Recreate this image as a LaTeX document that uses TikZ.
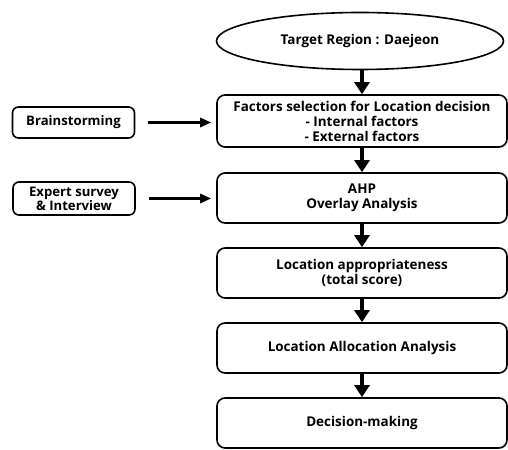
\documentclass[tikz,border=0pt]{standalone}
\usepackage{fontspec}
\setmainfont{Open Sans}
\usetikzlibrary{shapes.geometric,arrows.meta}
\begin{document}
\begin{tikzpicture}[x=1bp,y=-1bp,
  box/.style={draw,line width=1.6bp,rounded corners=8bp,minimum width=290bp,minimum height=50bp,align=center,font=\bfseries\fontsize{13.5}{15}\selectfont,inner sep=0pt},
  sidebox/.style={draw,line width=1.6bp,rounded corners=6bp,minimum width=122bp,align=center,font=\bfseries\fontsize{13.2}{14}\selectfont,inner sep=0pt},
  varrow/.style={line width=4.5bp,-{Triangle[width=15bp,length=12bp]}},
  harrow/.style={line width=2.8bp,-{Triangle[width=9bp,length=11bp]}}]
\useasboundingbox (0,0) rectangle (508,450);
\node[ellipse,draw,line width=1.6bp,minimum width=287bp,minimum height=57bp,inner sep=0pt,font=\bfseries\fontsize{13.5}{15}\selectfont] (target) at (360,41) {Target Region : Daejeon};
\node[box,minimum height=52bp] (fac) at (362,121) {Factors selection for Location decision\\- Internal factors\\- External factors};
\node[box] (ahp) at (362,198) {AHP\\Overlay Analysis};
\node[box] (loc) at (362,273) {Location appropriateness\\(total score)};
\node[box] (alloc) at (362,348) {Location Allocation Analysis};
\node[box] (dec) at (362,423) {Decision-making};
\node[sidebox,minimum height=31bp] (brain) at (73.5,122.5) {Brainstorming};
\node[sidebox,minimum height=33bp] (exp) at (74,198.5) {Expert survey\\\& Interview};
\draw[varrow] (target.south -| fac.north) -- (fac.north);
\draw[varrow] (fac) -- (ahp);
\draw[varrow] (ahp) -- (loc);
\draw[varrow] (loc) -- (alloc);
\draw[varrow] (alloc) -- (dec);
\draw[harrow,shorten <=13bp,shorten >=5bp] (brain.east) -- (brain.east -| fac.west);
\draw[harrow,shorten <=13bp,shorten >=5bp] (exp.east) -- (exp.east -| ahp.west);
\end{tikzpicture}
\end{document}
